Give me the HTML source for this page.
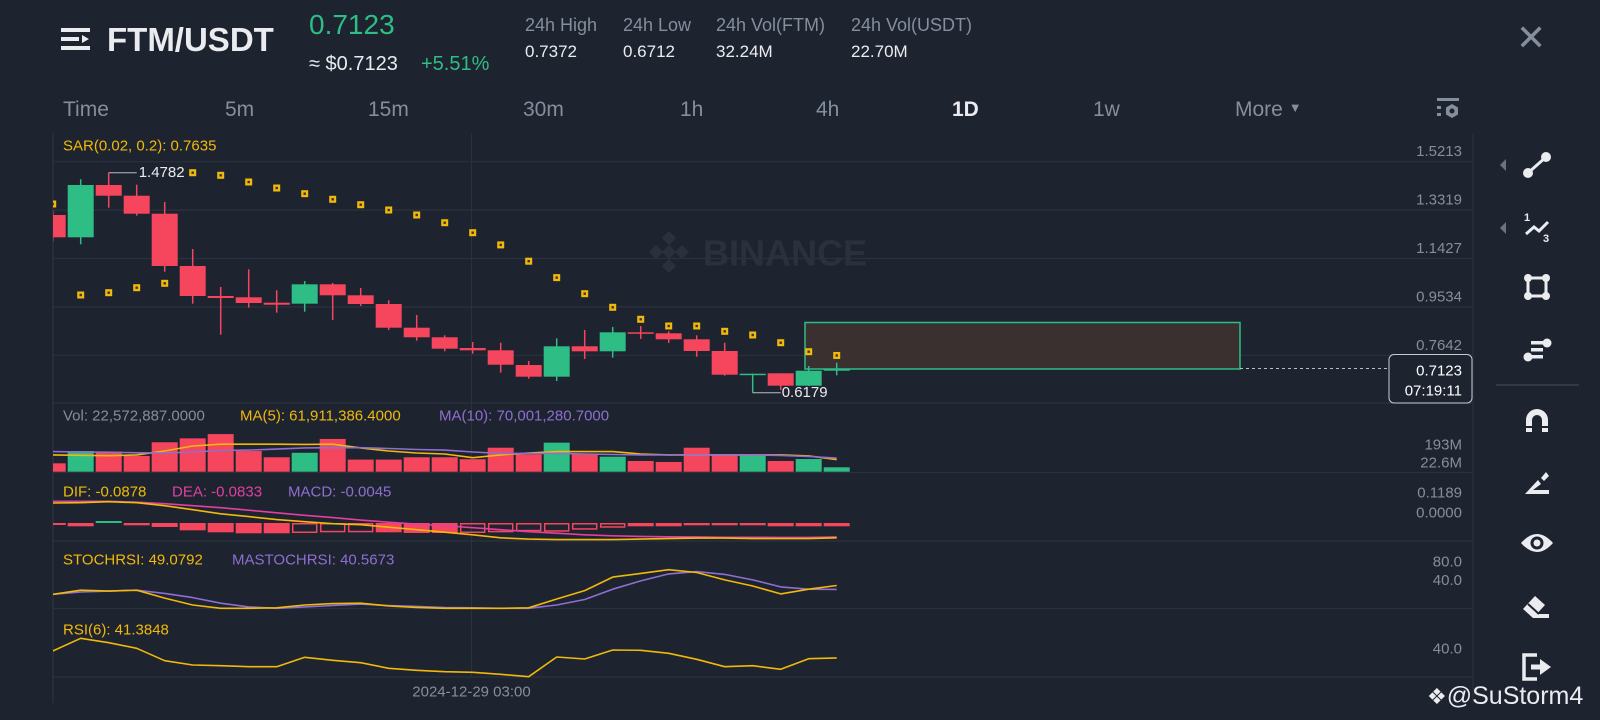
<!DOCTYPE html>
<html><head><meta charset="utf-8">
<style>
html,body{margin:0;padding:0;background:#1e2330;}
#root{position:relative;width:1600px;height:720px;overflow:hidden;background:#1e2330;font-family:"Liberation Sans",sans-serif;}
.t{position:absolute;white-space:nowrap;line-height:1;}
.g{color:#848e9c}
</style></head><body>
<div id="root">
  <svg class="t" style="left:61px;top:27px" width="30" height="24">
    <rect x="0" y="1" width="29" height="4" fill="#eaecef"/><rect x="0" y="10" width="18" height="4" fill="#eaecef"/><polygon points="21,8 28,12 21,16" fill="#eaecef"/><rect x="0" y="19" width="29" height="4" fill="#eaecef"/>
  </svg>
  <div class="t" style="left:107px;top:23px;font-size:33px;font-weight:bold;color:#eaecef">FTM/USDT</div>
  <div class="t" style="left:309px;top:11px;font-size:28px;color:#2ebd85">0.7123</div>
  <div class="t" style="left:309px;top:54px;font-size:20px;color:#eaecef">≈ $0.7123</div>
  <div class="t" style="left:421px;top:54px;font-size:20px;color:#2ebd85">+5.51%</div>
  <div class="t g" style="left:525px;top:16px;font-size:18px">24h High</div>
  <div class="t" style="left:525px;top:43px;font-size:17px;color:#eaecef">0.7372</div>
  <div class="t g" style="left:623px;top:16px;font-size:18px">24h Low</div>
  <div class="t" style="left:623px;top:43px;font-size:17px;color:#eaecef">0.6712</div>
  <div class="t g" style="left:716px;top:16px;font-size:18px">24h Vol(FTM)</div>
  <div class="t" style="left:716px;top:43px;font-size:17px;color:#eaecef">32.24M</div>
  <div class="t g" style="left:851px;top:16px;font-size:18px">24h Vol(USDT)</div>
  <div class="t" style="left:851px;top:43px;font-size:17px;color:#eaecef">22.70M</div>
  <div class="t g" style="left:1516px;top:20px;font-size:36px">✕</div>

  <div class="t g" style="left:63px;top:99px;font-size:21px">Time</div>
  <div class="t g" style="left:225px;top:99px;font-size:21px">5m</div>
  <div class="t g" style="left:368px;top:99px;font-size:21px">15m</div>
  <div class="t g" style="left:523px;top:99px;font-size:21px">30m</div>
  <div class="t g" style="left:680px;top:99px;font-size:21px">1h</div>
  <div class="t g" style="left:816px;top:99px;font-size:21px">4h</div>
  <div class="t" style="left:952px;top:99px;font-size:21px;font-weight:bold;color:#eaecef">1D</div>
  <div class="t g" style="left:1093px;top:99px;font-size:21px">1w</div>
  <div class="t g" style="left:1235px;top:99px;font-size:21px">More <span style="font-size:13px;vertical-align:4px">▼</span></div>
  <svg class="t" style="left:1436px;top:97px" width="24" height="24">
    <rect x="1" y="1" width="22" height="3" fill="#848e9c"/><rect x="1" y="9" width="4" height="3" fill="#848e9c"/><rect x="1" y="16" width="4" height="3" fill="#848e9c"/>
    <polygon points="16,7 22,10.5 22,17.5 16,21 10,17.5 10,10.5" fill="#848e9c"/><circle cx="16" cy="14" r="2.5" fill="#1e2330"/>
  </svg>

  <svg id="chart" class="t" style="left:0;top:0" width="1600" height="720"></svg>

  <div class="t" style="left:1427px;top:684px;font-size:25px;color:#eaecef"><span style="font-size:22px">❖</span>@SuStorm4</div>
</div>
<script>
// ---- data (index 0 = partially visible first candle) ----
const opens  = [1.3129,1.2256,1.4302,1.3883,1.3179,1.1134,0.9961,0.9910,0.9699,0.9660,1.0418,0.9988,0.9648,0.8721,0.8346,0.7927,0.7837,0.7262,0.6805,0.7994,0.7798,0.8541,0.8502,0.8267,0.7810,0.6899,0.6938,0.6453,0.7039];
const highs  = [1.3300,1.4525,1.4782,1.4314,1.3637,1.1799,1.0313,1.1005,1.0184,1.0547,1.0469,1.0274,0.9793,0.9218,0.8424,0.8162,0.8134,0.7419,0.8306,0.8631,0.8748,0.8788,0.8580,0.8424,0.8134,0.6922,0.6938,0.7223,0.7352];
const lows   = [1.2100,1.1983,1.3414,1.3101,1.0911,0.9660,0.8447,0.9503,0.9308,0.9347,0.9022,0.9570,0.8631,0.8213,0.7798,0.7704,0.6961,0.6726,0.6637,0.7497,0.7548,0.8279,0.8123,0.7587,0.6844,0.6179,0.6285,0.6441,0.6859];
const closes = [1.2256,1.4302,1.3883,1.3179,1.1134,0.9961,0.9883,0.9687,0.9620,1.0418,0.9988,0.9648,0.8721,0.8346,0.7900,0.7837,0.7274,0.6805,0.7994,0.7798,0.8541,0.8486,0.8267,0.7810,0.6883,0.6922,0.6453,0.7039,0.7123];
const sar    = [1.3559,1.0000,1.0090,1.0285,1.0457,1.4782,1.4681,1.4419,1.4184,1.3962,1.3743,1.3531,1.3324,1.3129,1.2827,1.2436,1.1959,1.1322,1.0680,1.0051,0.9519,0.9050,0.8788,0.8788,0.8580,0.8436,0.8134,0.7782,0.7635];
const vols   = [43,106,103,81,151,171,193,106,74,97,168,62,62,74,74,64,123,89,149,89,77,55,50,123,89,86,55,65,22.6];
const volMa5 = [86,84,82,86,106,132,141,141,141,140,141,122,106,96,91,72,86,96,103,103,103,91,86,86,86,86,86,81,62];
const volMa10= [103,101,100,97,96,101,109,111,116,122,123,123,119,114,111,101,94,94,94,91,88,86,86,86,86,86,83,78,70];
const dif    = [0.119,0.121,0.127,0.121,0.103,0.079,0.055,0.038,0.020,0.008,-0.004,-0.010,-0.025,-0.040,-0.055,-0.070,-0.088,-0.096,-0.099,-0.099,-0.099,-0.096,-0.093,-0.090,-0.090,-0.093,-0.093,-0.093,-0.088];
const dea    = [0.129,0.129,0.129,0.124,0.115,0.103,0.091,0.076,0.061,0.046,0.032,0.017,0.005,-0.007,-0.016,-0.028,-0.040,-0.052,-0.061,-0.070,-0.076,-0.080,-0.082,-0.083,-0.085,-0.085,-0.086,-0.086,-0.083];
const macdHist=[-0.0119,-0.0196,0.0119,-0.0137,-0.0238,-0.0435,-0.0554,-0.0613,-0.0613,-0.0595,-0.0554,-0.0554,-0.0554,-0.0595,-0.0595,-0.0595,-0.0554,-0.0494,-0.0518,-0.0399,-0.0280,-0.0196,-0.0196,-0.0137,-0.0137,-0.0137,-0.0196,-0.0196,-0.0196];
const histHollow=[0,0,0,0,0,0,0,0,0,1,1,1,0,0,0,1,1,1,1,1,1,0,0,0,0,0,0,0,0];
const stoch  = [30,39,37,39,22,7,0,0,1,7,10,11,5,2,0,0,0,1,20,38,67,75,83,77,61,48,31,41,49];
const maStoch= [30,35,37,39,32,23,11,3,0,3,6,9,6,4,1.5,1,0,0,7,19,41,59,74,79,73,61,46,41,40.6];
const rsi    = [49.2,63.6,58.6,52.3,38.2,33.3,32.5,31.4,31.4,42,38.6,35.9,29.5,27.3,25.7,25,22.7,20,42.4,40.1,50.3,50,46.6,39.8,31.4,32.5,28.4,40.5,41.4];
const priceTicks = [1.5213,1.3319,1.1427,0.9534,0.7642];
const volTicks = ["193M","22.6M"];
const macdTicks = ["0.1189","0.0000"];
const stochTicks = [80.0,40.0];
const rsiTicks = [40.0];
const lastPrice = 0.7123;

// ---- axis functions ----
const X = k => 52.7 + 28*k;
const Yp = p => 161.7 + (1.5213 - p)*255.7;
const Yv = v => 471.7 - v/5.13;
const Ym = v => 523 - v*168;
const Ys = v => 608.3 - v*0.465;
const Yr = v => 676.7 - (v-20)*0.88;

const NS="http://www.w3.org/2000/svg";
const svg=document.getElementById('chart');
function mk(tag,attrs,parent){const e=document.createElementNS(NS,tag);for(const k in attrs)e.setAttribute(k,attrs[k]);(parent||svg).appendChild(e);return e;}
function txt(s,x,y,size,fill,anchor,parent){const e=mk('text',{x:x,y:y,'font-size':size,fill:fill,'text-anchor':anchor||'start','font-family':'Liberation Sans, sans-serif','dominant-baseline':'central'},parent);e.textContent=s;return e;}

const RED='#f6465d',GREEN='#2ebd85',YEL='#f0b90b',PUR='#8e6fd0',MAG='#e040a0',GRID='#2b313d',GRAY='#848e9c';

const defs=mk('defs',{});const cp=mk('clipPath',{id:'clip'},defs);mk('rect',{x:53,y:133,width:1420,height:570},cp);

let e;
e=mk('line',{x1:53,y1:133,x2:53,y2:703,stroke:GRID,'stroke-width':1.5});

e=mk('line',{x1:1473,y1:133,x2:1473,y2:703,stroke:GRID,'stroke-width':1});

e=mk('line',{x1:471.5,y1:133,x2:471.5,y2:677,stroke:GRID,'stroke-width':1});

[403,472.5,541,608.5,677].forEach(y=>{const l=mk('line',{x1:53,y1:y,x2:1473,y2:y,stroke:GRID,'stroke-width':1.2});

});
priceTicks.forEach(p=>{const l=mk('line',{x1:53,y1:Yp(p),x2:1473,y2:Yp(p),stroke:GRID,'stroke-width':1.2});


const t=txt(p.toFixed(4),1462,Yp(p)-10,15,GRAY,'end');

});

const wm=mk('g',{});

[[669,238],[656,252],[682,252],[669,266],[669,252]].forEach(([cx,cy])=>mk('rect',{x:cx-5,y:cy-5,width:10,height:10,fill:'#2a303c',transform:`rotate(45 ${cx} ${cy})`},wm));
txt('BINANCE',703,253,36,'#2a303c','start',wm).setAttribute('font-weight','bold');

const g=mk('g',{'clip-path':'url(#clip)'});

e=mk('rect',{x:805,y:322.5,width:435,height:46.5,fill:'#3a302f',stroke:GREEN,'stroke-width':1.5},g);

e=mk('line',{x1:1240,y1:Yp(lastPrice),x2:1389,y2:Yp(lastPrice),stroke:'#b7bdc6','stroke-width':1,'stroke-dasharray':'3,3'});


for(let k=0;k<opens.length;k++){
  const up=closes[k]>=opens[k],c=up?GREEN:RED,x=X(k);
  const w=mk('line',{x1:x,y1:Yp(highs[k]),x2:x,y2:Yp(lows[k]),stroke:c,'stroke-width':1.5},g);
  
  
  const top=Yp(Math.max(opens[k],closes[k])),bot=Yp(Math.min(opens[k],closes[k]));
  const b=mk('rect',{x:x-13,y:top,width:26,height:Math.max(1.5,bot-top),fill:c},g);
  
  
}
for(let k=0;k<sar.length;k++){
  const x=X(k),y=Yp(sar[k]);
  const d=mk('rect',{x:x-3.5,y:y-3.5,width:7,height:7,fill:YEL},g);
  
  
  mk('rect',{x:x-1.2,y:y-1.2,width:2.4,height:2.4,fill:'#3a3320'},g);
}
let hiK=0,loK=0;highs.forEach((v,k)=>{if(v>highs[hiK])hiK=k;});lows.forEach((v,k)=>{if(v<lows[loK])loK=k;});
mk('line',{x1:X(hiK),y1:Yp(highs[hiK]),x2:X(hiK)+28,y2:Yp(highs[hiK]),stroke:'#b7bdc6','stroke-width':1});
e=txt(highs[hiK].toFixed(4),X(hiK)+30,Yp(highs[hiK]),15,'#eaecef');

mk('line',{x1:X(loK),y1:Yp(lows[loK]),x2:X(loK)+28,y2:Yp(lows[loK]),stroke:'#b7bdc6','stroke-width':1});
e=txt(lows[loK].toFixed(4),X(loK)+29,Yp(lows[loK]),15,'#eaecef');


for(let k=0;k<vols.length;k++){
  const up=closes[k]>=opens[k];
  const b=mk('rect',{x:X(k)-13,y:Yv(vols[k]),width:26,height:471.7-Yv(vols[k]),fill:up?GREEN:RED},g);
  
  
}
function line(arr,yf,color,name){const pts=arr.map((v,k)=>X(k).toFixed(1)+','+yf(v).toFixed(1)).join(' ');
  const p=mk('polyline',{points:pts,fill:'none',stroke:color,'stroke-width':1.6,'stroke-linejoin':'round'},g);
  
  }
line(volMa5,Yv,YEL,'vol-ma5-line');line(volMa10,Yv,PUR,'vol-ma10-line');

for(let k=0;k<macdHist.length;k++){
  const v=macdHist[k],c=v>=0?GREEN:RED,y0=Ym(0),y1=Ym(v);
  const top=Math.min(y0,y1),h=Math.max(1.5,Math.abs(y1-y0));
  const b=histHollow[k]?mk('rect',{x:X(k)-12,y:top+0.75,width:24,height:Math.max(0.5,h-1.5),fill:'none',stroke:c,'stroke-width':1.5},g)
                       :mk('rect',{x:X(k)-13,y:top,width:26,height:h,fill:c},g);
  
  
}
line(dea,Ym,MAG,'dea-line');line(dif,Ym,YEL,'dif-line');
line(maStoch,Ys,PUR,'mastochrsi-line');line(stoch,Ys,YEL,'stochrsi-line');
line(rsi,Yr,YEL,'rsi-line');

function lbl(s,x,y,c,n){const t=txt(s,x,y,15,c);}
lbl('SAR(0.02, 0.2): '+sar[sar.length-1].toFixed(4),63,146,YEL,'sar-legend');
lbl('Vol: 22,572,887.0000',63,416,GRAY,'vol-legend');
lbl('MA(5): 61,911,386.4000',240,416,YEL,'vol-ma5-legend');
lbl('MA(10): 70,001,280.7000',439,416,PUR,'vol-ma10-legend');
lbl('DIF: -0.0878',63,492,YEL,'dif-legend');
lbl('DEA: -0.0833',172,492,MAG,'dea-legend');
lbl('MACD: -0.0045',288,492,PUR,'macd-legend');
lbl('STOCHRSI: 49.0792',63,560,YEL,'stochrsi-legend');
lbl('MASTOCHRSI: 40.5673',232,560,PUR,'mastochrsi-legend');
lbl('RSI(6): 41.3848',63,630,YEL,'rsi-legend');

volTicks.forEach((s,i)=>{const t=txt(s,1462,445+i*18,15,GRAY,'end');});
macdTicks.forEach((s,i)=>{const t=txt(s,1462,493+i*20,15,GRAY,'end');});
stochTicks.forEach(v=>{const t=txt(v.toFixed(1),1462,Ys(v)-9,15,GRAY,'end');});
rsiTicks.forEach(v=>{const t=txt(v.toFixed(1),1462,649,15,GRAY,'end');});
e=txt('2024-12-29 03:00',471.5,692,15,GRAY,'middle');


const tag=mk('g',{});

mk('rect',{x:1389,y:354.5,width:83,height:48.5,rx:5,fill:'#1e2330',stroke:'#c8ccd2','stroke-width':1},tag);
txt(lastPrice.toFixed(4),1462,371,15,'#ffffff','end',tag);
txt('07:19:11',1462,391,15,'#ffffff','end',tag);

const W='#eaecef';
function tool(name,y,build){const gg=mk('g',{});build(gg,y);}
mk('polygon',{points:'1506,159 1506,171 1500,165',fill:'#6b7280'});
mk('polygon',{points:'1506,222 1506,234 1500,228',fill:'#6b7280'});
tool('trendline-tool',165,(p,y)=>{mk('line',{x1:1528,y1:y+8,x2:1546,y2:y-8,stroke:W,'stroke-width':3},p);mk('circle',{cx:1528,cy:y+8,r:5,fill:W},p);mk('circle',{cx:1546,cy:y-8,r:5,fill:W},p);});
tool('fibonacci-tool',228,(p,y)=>{mk('polyline',{points:`1526,${y+6} 1534,${y-1} 1539,${y+3} 1548,${y-6}`,fill:'none',stroke:W,'stroke-width':3},p);txt('1',1527,y-10,11,W,'middle',p).setAttribute('font-weight','bold');txt('3',1546,y+11,11,W,'middle',p).setAttribute('font-weight','bold');});
tool('rectangle-tool',287,(p,y)=>{mk('rect',{x:1528,y:y-9,width:18,height:18,fill:'none',stroke:W,'stroke-width':3},p);[[1528,y-9],[1546,y-9],[1528,y+9],[1546,y+9]].forEach(([a,b])=>mk('circle',{cx:a,cy:b,r:4,fill:W},p));});
tool('text-lines-tool',350,(p,y)=>{mk('rect',{x:1531,y:y-9,width:14,height:3.5,fill:W},p);mk('rect',{x:1531,y:y-2,width:12,height:3.5,fill:W},p);mk('rect',{x:1531,y:y+5,width:12,height:3.5,fill:W},p);mk('circle',{cx:1547,cy:y-7,r:4.5,fill:W},p);mk('circle',{cx:1528,cy:y+7,r:4.5,fill:W},p);});
e=mk('line',{x1:1496,y1:385,x2:1579,y2:385,stroke:'#3a404c','stroke-width':1.5});

tool('magnet-tool',420,(p,y)=>{mk('path',{d:`M1526,${y+12} V${y} A11,11 0 0 1 1548,${y} V${y+12} H1542 V${y} A5,5 0 0 0 1532,${y} V${y+12} Z`,fill:W},p);mk('rect',{x:1525,y:y+6,width:24,height:2,fill:'#1e2330'},p);});
tool('pencil-tool',483,(p,y)=>{mk('polygon',{points:`1525,${y+11} 1549,${y+11} 1549,${y+7} 1533,${y+7} 1541,${y+1} 1538,${y-3}`,fill:W},p);mk('polygon',{points:`1541,${y-5} 1546,${y-11} 1549,${y-7} 1544,${y-2}`,fill:W},p);});
tool('visibility-tool',543,(p,y)=>{mk('path',{d:`M1521,${y} Q1537,${y-18} 1553,${y} Q1537,${y+18} 1521,${y} Z`,fill:W},p);mk('circle',{cx:1537,cy:y,r:6.5,fill:'#1e2330'},p);mk('circle',{cx:1537,cy:y,r:3.5,fill:W},p);});
tool('eraser-tool',607,(p,y)=>{mk('polygon',{points:`1523,${y+2} 1535,${y-11} 1545,${y-2} 1533,${y+11}`,fill:W},p);mk('rect',{x:1533,y:y+7,width:16,height:4,fill:W},p);mk('line',{x1:1528,y1:y-3,x2:1539,y2:y+7,stroke:'#1e2330','stroke-width':2},p);});
tool('exit-tool',667,(p,y)=>{mk('path',{d:`M1537,${y-12} H1524 V${y+12} H1537`,fill:'none',stroke:W,'stroke-width':3.5},p);mk('rect',{x:1531,y:y-2.5,width:10,height:5,fill:W},p);mk('polygon',{points:`1540,${y-8} 1551,${y} 1540,${y+8}`,fill:W},p);});
</script>
</body></html>
